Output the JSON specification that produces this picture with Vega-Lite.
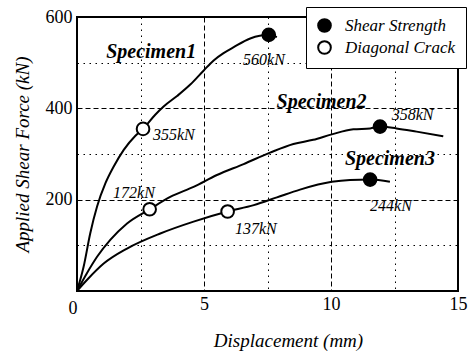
{
  "$schema": "https://vega.github.io/schema/vega-lite/v6.json",
  "width": 381,
  "height": 274,
  "autosize": "none",
  "padding": {"left": 77, "top": 17, "right": 17, "bottom": 63},
  "background": "white",
  "config": {
    "view": {"stroke": "black", "strokeWidth": 2},
    "font": "Liberation Serif",
    "axis": {
      "domain": false,
      "ticks": false,
      "gridColor": "black",
      "gridOpacity": 1,
      "gridWidth": 1,
      "labelFont": "Liberation Serif",
      "labelFontSize": 18,
      "labelColor": "black",
      "titleFont": "Liberation Serif",
      "titleFontStyle": "italic",
      "titleFontWeight": "normal",
      "titleFontSize": 19,
      "titleColor": "black"
    }
  },
  "datasets": {
    "curves": [
      {"specimen": "Specimen1", "x": 0, "y": 0},
      {"specimen": "Specimen1", "x": 0.26, "y": 53},
      {"specimen": "Specimen1", "x": 0.52, "y": 126},
      {"specimen": "Specimen1", "x": 0.79, "y": 185},
      {"specimen": "Specimen1", "x": 1.12, "y": 236},
      {"specimen": "Specimen1", "x": 1.44, "y": 272},
      {"specimen": "Specimen1", "x": 1.84, "y": 309},
      {"specimen": "Specimen1", "x": 2.3, "y": 340},
      {"specimen": "Specimen1", "x": 2.6, "y": 355},
      {"specimen": "Specimen1", "x": 3.08, "y": 386},
      {"specimen": "Specimen1", "x": 3.41, "y": 404},
      {"specimen": "Specimen1", "x": 3.94, "y": 427},
      {"specimen": "Specimen1", "x": 4.46, "y": 452},
      {"specimen": "Specimen1", "x": 4.99, "y": 483},
      {"specimen": "Specimen1", "x": 5.38, "y": 505},
      {"specimen": "Specimen1", "x": 5.77, "y": 521},
      {"specimen": "Specimen1", "x": 6.17, "y": 534},
      {"specimen": "Specimen1", "x": 6.82, "y": 553},
      {"specimen": "Specimen1", "x": 7.55, "y": 561},
      {"specimen": "Specimen1", "x": 7.87, "y": 556},
      {"specimen": "Specimen2", "x": 0, "y": 0},
      {"specimen": "Specimen2", "x": 0.39, "y": 39},
      {"specimen": "Specimen2", "x": 0.79, "y": 75},
      {"specimen": "Specimen2", "x": 1.31, "y": 112},
      {"specimen": "Specimen2", "x": 1.97, "y": 148},
      {"specimen": "Specimen2", "x": 2.86, "y": 179},
      {"specimen": "Specimen2", "x": 3.67, "y": 206},
      {"specimen": "Specimen2", "x": 4.59, "y": 228},
      {"specimen": "Specimen2", "x": 5.51, "y": 254},
      {"specimen": "Specimen2", "x": 6.56, "y": 278},
      {"specimen": "Specimen2", "x": 7.6, "y": 303},
      {"specimen": "Specimen2", "x": 8.52, "y": 322},
      {"specimen": "Specimen2", "x": 9.3, "y": 331},
      {"specimen": "Specimen2", "x": 10.03, "y": 343},
      {"specimen": "Specimen2", "x": 10.88, "y": 354},
      {"specimen": "Specimen2", "x": 11.54, "y": 356},
      {"specimen": "Specimen2", "x": 11.93, "y": 360},
      {"specimen": "Specimen2", "x": 12.58, "y": 356},
      {"specimen": "Specimen2", "x": 13.37, "y": 349},
      {"specimen": "Specimen2", "x": 14.42, "y": 339},
      {"specimen": "Specimen3", "x": 0, "y": 0},
      {"specimen": "Specimen3", "x": 0.39, "y": 24},
      {"specimen": "Specimen3", "x": 1.05, "y": 60},
      {"specimen": "Specimen3", "x": 1.97, "y": 93},
      {"specimen": "Specimen3", "x": 3.28, "y": 126},
      {"specimen": "Specimen3", "x": 4.59, "y": 152},
      {"specimen": "Specimen3", "x": 5.93, "y": 174},
      {"specimen": "Specimen3", "x": 6.96, "y": 188},
      {"specimen": "Specimen3", "x": 7.87, "y": 205},
      {"specimen": "Specimen3", "x": 8.78, "y": 222},
      {"specimen": "Specimen3", "x": 10.03, "y": 239},
      {"specimen": "Specimen3", "x": 10.75, "y": 243},
      {"specimen": "Specimen3", "x": 11.54, "y": 244},
      {"specimen": "Specimen3", "x": 12.32, "y": 239}
    ],
    "points": [
      {"specimen": "Specimen1", "type": "Diagonal Crack", "x": 2.6, "y": 355, "label": "355kN", "lx": 2.99, "ly": 342},
      {"specimen": "Specimen1", "type": "Shear Strength", "x": 7.55, "y": 561, "label": "560kN", "lx": 6.54, "ly": 506},
      {"specimen": "Specimen2", "type": "Diagonal Crack", "x": 2.86, "y": 179, "label": "172kN", "lx": 1.42, "ly": 215},
      {"specimen": "Specimen2", "type": "Shear Strength", "x": 11.93, "y": 360, "label": "358kN", "lx": 12.39, "ly": 385},
      {"specimen": "Specimen3", "type": "Diagonal Crack", "x": 5.93, "y": 174, "label": "137kN", "lx": 6.22, "ly": 136},
      {"specimen": "Specimen3", "type": "Shear Strength", "x": 11.54, "y": 244, "label": "244kN", "lx": 11.54, "ly": 186}
    ],
    "names": [
      {"name": "Specimen1", "x": 2.92, "y": 523},
      {"name": "Specimen2", "x": 9.63, "y": 414},
      {"name": "Specimen3", "x": 12.32, "y": 290}
    ]
  },
  "layer": [
    {
      "data": {"name": "curves"},
      "mark": {"type": "line", "color": "black", "strokeWidth": 2, "interpolate": "monotone"},
      "encoding": {
        "x": {
          "field": "x", "type": "quantitative",
          "scale": {"domain": [0, 15], "nice": false, "zero": false},
          "axis": {
            "values": [0, 2.5, 5, 7.5, 10, 12.5, 15],
            "labelExpr": "datum.value % 5 === 0 ? datum.label : ''",
            "labelOverlap": false,
            "labelPadding": {"condition": {"test": "datum.value === 0", "value": 8}, "value": 4},
            "labelAlign": {"condition": {"test": "datum.value === 0", "value": "right"}, "value": "center"},
            "gridDash": {"condition": {"test": "datum.value % 5 === 0", "value": [5, 3]}, "value": [1.5, 4.5]},
            "title": "Displacement (mm)",
            "titleX": 211,
            "titleY": 49,
            "titleBaseline": "middle"
          }
        },
        "y": {
          "field": "y", "type": "quantitative",
          "scale": {"domain": [0, 600], "nice": false},
          "axis": {
            "values": [0, 100, 200, 300, 400, 500, 600],
            "labelExpr": "datum.value % 200 === 0 && datum.value > 0 ? datum.label : ''",
            "labelOverlap": false,
            "labelPadding": 5,
            "gridDash": {"condition": {"test": "datum.value % 200 === 0", "value": [5, 3]}, "value": [1.5, 4.5]},
            "title": "Applied Shear Force (kN)",
            "titleX": -55,
            "titleY": 137,
            "titleAlign": "center",
            "titleBaseline": "middle",
            "titleAngle": -90
          }
        },
        "detail": {"field": "specimen"},
        "order": {"field": "x"}
      }
    },
    {
      "data": {"name": "points"},
      "mark": {"type": "point", "shape": "circle", "filled": true, "stroke": "black", "strokeWidth": 2, "size": 160, "opacity": 1},
      "encoding": {
        "x": {"field": "x", "type": "quantitative"},
        "y": {"field": "y", "type": "quantitative"},
        "fill": {
          "field": "type", "type": "nominal",
          "scale": {"domain": ["Shear Strength", "Diagonal Crack"], "range": ["black", "white"]},
          "legend": {
            "title": null,
            "orient": "none",
            "legendX": 229,
            "legendY": -10,
            "fillColor": "white",
            "strokeColor": "black",
            "padding": 10,
            "labelFont": "Liberation Serif",
            "labelFontStyle": "italic",
            "labelFontSize": 17,
            "labelColor": "black",
            "symbolType": "circle",
            "symbolStrokeColor": "black",
            "symbolStrokeWidth": 2,
            "symbolSize": 160,
            "labelOffset": 12,
            "rowPadding": 1
          }
        }
      }
    },
    {
      "data": {"name": "points"},
      "mark": {"type": "text", "font": "Liberation Serif", "fontStyle": "italic", "fontSize": 16, "align": "left", "baseline": "middle", "color": "black"},
      "encoding": {
        "x": {"field": "lx", "type": "quantitative"},
        "y": {"field": "ly", "type": "quantitative"},
        "text": {"field": "label"}
      }
    },
    {
      "data": {"name": "names"},
      "mark": {"type": "text", "font": "Liberation Serif", "fontStyle": "italic", "fontWeight": "bold", "fontSize": 20, "align": "center", "baseline": "middle", "color": "black"},
      "encoding": {
        "x": {"field": "x", "type": "quantitative"},
        "y": {"field": "y", "type": "quantitative"},
        "text": {"field": "name"}
      }
    }
  ]
}
